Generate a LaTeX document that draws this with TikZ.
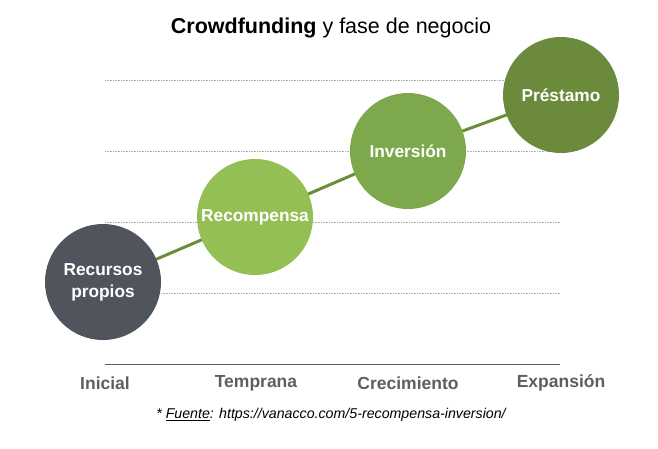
\documentclass[tikz,border=0pt]{standalone}
\usepackage{fontspec}
\setmainfont{Liberation Sans}
\definecolor{dgray}{HTML}{50555D}
\definecolor{lgreen}{HTML}{93BF55}
\definecolor{mgreen}{HTML}{7DA84B}
\definecolor{dgreen}{HTML}{6B8A3C}
\definecolor{linegreen}{HTML}{6A8E38}
\definecolor{axgray}{HTML}{5A5F66}
\begin{document}
\begin{tikzpicture}[x=1pt,y=-1pt,
  stage/.style={circle,minimum size=116pt,inner sep=0pt,text=white,font=\fontsize{17.3}{22}\selectfont\bfseries,align=center},
  axlabel/.style={text=axgray,font=\fontsize{17.5}{20}\selectfont\bfseries},
  grid/.style={gray!60,densely dotted,line width=0.6pt}]
\useasboundingbox (0,0) rectangle (658,448);
\node (title) at (331,28) {\fontsize{21.5}{25}\selectfont\textbf{Crowdfunding} y fase de negocio};
\foreach \y in {80,151,222,293} \draw[grid] (105,\y) -- (560,\y);
\coordinate (axL) at (105,364);
\coordinate (axR) at (560,364);
\draw[axgray,line width=1pt] (axL) -- (axR);
\coordinate (c1) at (103,282);
\coordinate (c2) at (255,217);
\coordinate (c3) at (408,151);
\coordinate (c4) at (561,95);
\draw[linegreen,line width=3pt] (c1) -- (c2) -- (c3) -- (c4);
\node[stage,fill=dgray] (n1) at (c1) {Recursos\\propios};
\node[stage,fill=lgreen] (n2) at (c2) {Recompensa};
\node[stage,fill=mgreen] (n3) at (c3) {Inversión};
\node[stage,fill=dgreen] (n4) at (c4) {Préstamo};
\node[axlabel] (l1) at (105,383) {Inicial};
\node[axlabel] (l2) at (256,383) {Temprana};
\node[axlabel] (l3) at (408,383) {Crecimiento};
\node[axlabel] (l4) at (561,383) {Expansión};
\node (src) at (331,415) {\fontsize{14.2}{16}\selectfont\itshape * \underline{Fuente}: https://vanacco.com/5-recompensa-inversion/};
\end{tikzpicture}
\end{document}
